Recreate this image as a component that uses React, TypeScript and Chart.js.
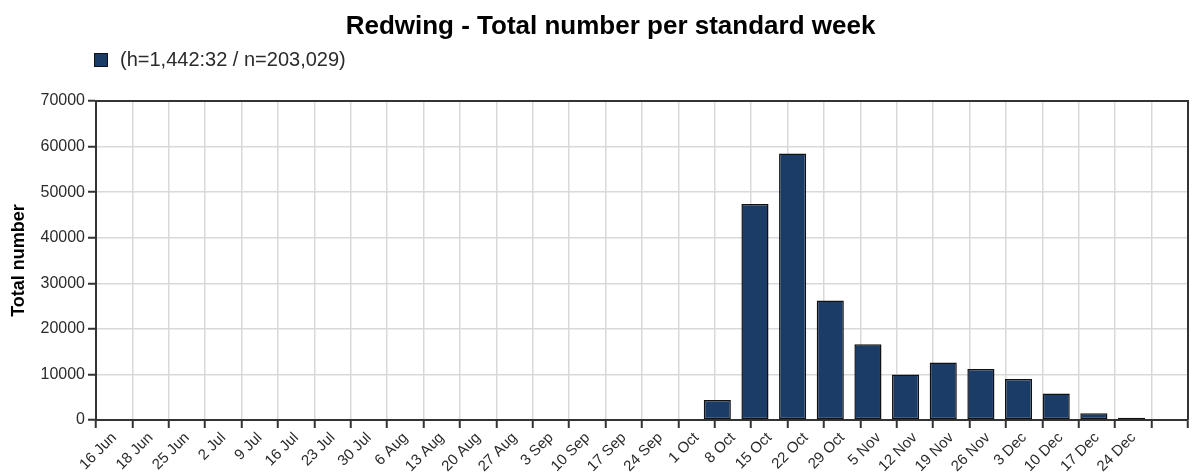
import React, { useEffect, useRef } from "react";
import { Chart, registerables } from "chart.js";

Chart.register(...registerables);

// ---------- data ----------
const weekLabels: string[] = [
  "16 Jun", "18 Jun", "25 Jun", "2 Jul", "9 Jul", "16 Jul", "23 Jul", "30 Jul",
  "6 Aug", "13 Aug", "20 Aug", "27 Aug", "3 Sep", "10 Sep", "17 Sep", "24 Sep",
  "1 Oct", "8 Oct", "15 Oct", "22 Oct", "29 Oct", "5 Nov", "12 Nov", "19 Nov",
  "26 Nov", "3 Dec", "10 Dec", "17 Dec", "24 Dec",
];
const totals: number[] = [
  0, 0, 0, 0, 0, 0, 0, 0,
  0, 0, 0, 0, 0, 0, 0, 0,
  4400, 47400, 58500, 26200, 16600, 10000, 12600, 11200,
  9000, 5800, 1500, 500, 0,
];
const yTickValues: number[] = [0, 10000, 20000, 30000, 40000, 50000, 60000, 70000];
const chartTitle = "Redwing - Total number per standard week";
const seriesLabel = "(h=1,442:32 / n=203,029)";
const yAxisTitle = "Total number";

// ---------- styles ----------
const BAR_COLOR = "#1c3c68";
const BAR_BORDER = "#111111";
const GRID_COLOR = "#d9d9d9";
const AXIS_COLOR = "#333333";
const TEXT_COLOR = "#2b2b2b";
const FONT = "'Liberation Sans', Arial, sans-serif";

const decorPlugin = {
  id: "decor",
  afterDraw(chart: any) {
    const { ctx, chartArea } = chart;
    ctx.save();
    // frame top and right
    ctx.strokeStyle = AXIS_COLOR;
    ctx.lineWidth = 2;
    ctx.beginPath();
    ctx.moveTo(chartArea.left, chartArea.top);
    ctx.lineTo(chartArea.right, chartArea.top);
    ctx.lineTo(chartArea.right, chartArea.bottom);
    ctx.stroke();

    // title
    ctx.fillStyle = "#000000";
    ctx.font = `bold 26px ${FONT}`;
    ctx.textAlign = "center";
    ctx.textBaseline = "alphabetic";
    ctx.fillText(chartTitle, chart.width / 2 + 14, 34);

    // legend
    const bx = chartArea.left - 2;
    const by = 53;
    ctx.fillStyle = BAR_COLOR;
    ctx.fillRect(bx, by, 14, 14);
    ctx.strokeStyle = BAR_BORDER;
    ctx.lineWidth = 1;
    ctx.strokeRect(bx + 0.5, by + 0.5, 13, 13);
    ctx.fillStyle = TEXT_COLOR;
    ctx.font = `20px ${FONT}`;
    ctx.textAlign = "left";
    ctx.textBaseline = "middle";
    ctx.fillText(seriesLabel, bx + 26, by + 7.5);
    ctx.restore();
  },
};

export default function App() {
  const canvasRef = useRef<HTMLCanvasElement | null>(null);

  useEffect(() => {
    if (!canvasRef.current) return;
    const chart = new Chart(canvasRef.current, {
      type: "bar",
      data: {
        labels: weekLabels,
        datasets: [
          {
            label: seriesLabel,
            data: totals.map((v) => (v === 0 ? null : v)),
            backgroundColor: BAR_COLOR,
            borderColor: BAR_BORDER,
            borderWidth: 1.5,
            borderSkipped: false,
            barPercentage: 0.72,
            categoryPercentage: 1,
            xAxisID: "x",
            yAxisID: "y",
          },
        ],
      },
      options: {
        animation: false,
        responsive: false,
        maintainAspectRatio: false,
        layout: { padding: { top: 101, right: 5, bottom: 0, left: 0 } },
        plugins: {
          legend: { display: false },
          title: { display: false },
          tooltip: { enabled: false },
        },
        scales: {
          x: {
            type: "category",
            display: false,
            offset: true,
          },
          x2: {
            type: "linear",
            position: "bottom",
            min: 0,
            max: weekLabels.length,
            afterFit: (scale: any) => {
              scale.height = 52;
            },
            afterBuildTicks: (scale: any) => {
              scale.ticks = Array.from({ length: weekLabels.length + 1 }, (_, i) => ({ value: i }));
            },
            ticks: {
              autoSkip: false,
              maxRotation: 45,
              minRotation: 45,
              padding: 1,
              color: TEXT_COLOR,
              font: { family: FONT, size: 15 },
              callback: (v: any) => weekLabels[Number(v)] ?? "",
            },
            grid: {
              color: GRID_COLOR,
              lineWidth: 1.5,
              tickColor: AXIS_COLOR,
              tickLength: 8,
              tickWidth: 2,
            },
            border: { color: AXIS_COLOR, width: 2 },
          },
          y: {
            type: "linear",
            min: 0,
            max: 70000,
            afterFit: (scale: any) => {
              scale.width = 96;
            },
            afterBuildTicks: (scale: any) => {
              scale.ticks = yTickValues.map((value) => ({ value }));
            },
            ticks: {
              padding: 3,
              color: TEXT_COLOR,
              font: { family: FONT, size: 16 },
              callback: (v: any) => String(v),
            },
            grid: {
              color: GRID_COLOR,
              lineWidth: 1.5,
              tickColor: AXIS_COLOR,
              tickLength: 8,
              tickWidth: 2,
            },
            border: { color: AXIS_COLOR, width: 2 },
            title: {
              display: true,
              text: yAxisTitle,
              color: "#000000",
              font: { family: FONT, size: 18, weight: "bold" },
              padding: { top: 8, bottom: 0 },
            },
          },
        },
      },
      plugins: [decorPlugin],
    } as any);
    return () => chart.destroy();
  }, []);

  return (
    <div style={{ position: "fixed", left: 0, top: 0, width: 1193, height: 472, background: "#ffffff" }}>
      <canvas ref={canvasRef} width={1193} height={472} style={{ display: "block", width: 1193, height: 472 }} />
    </div>
  );
}
